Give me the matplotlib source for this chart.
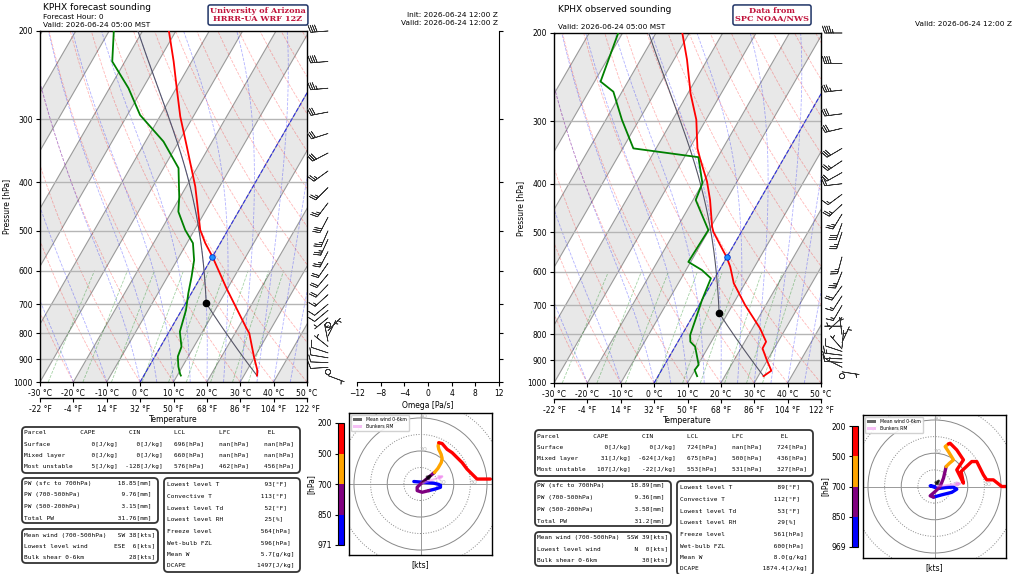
import numpy as np
import matplotlib
matplotlib.use("Agg")
import matplotlib.pyplot as plt
from matplotlib.patches import FancyBboxPatch, Patch, Circle
from matplotlib.colors import ListedColormap, BoundaryNorm
from matplotlib.cm import ScalarMappable
from matplotlib.transforms import IdentityTransform

W, H = 1024, 574

# ---------------------------------------------------------------- data
# forecast sounding (HRRR-UA WRF), pressure [hPa] / temperature [degC]
fc_t_p = [971, 964, 946, 890, 800, 782, 651, 563, 529, 498, 434, 408, 340, 296, 262, 230, 200]
fc_t = [33.9, 33.7, 33.0, 29.7, 24.3, 22.6, 9.7, 0.0, -4.5, -8.3, -14.5, -17.3, -26.7, -33.9, -39.5, -45.4, -52.1]
fc_td_p = [971, 964, 932, 890, 851, 794, 719, 666, 617, 572, 529, 498, 458, 428, 375, 332, 294, 260, 230, 200]
fc_td = [11.1, 10.6, 8.8, 6.9, 6.3, 3.2, 1.3, -0.9, -2.8, -4.9, -8.2, -12.8, -18.0, -20.3, -25.5, -34.6, -46.2, -54.3, -63.8, -68.6]
# forecast winds [hPa] / u, v [kts]
fc_w_p = [971, 955, 935, 915, 895, 875, 850, 830, 810, 790, 770, 745, 720, 700,
          670, 640, 610, 580, 550, 520, 500, 470, 440, 410, 380, 350, 320, 290, 260, 230, 200]
fc_u = [-4, 2, 8, 12, 12, 9, 5, 1, -2, -2, 0, 3, 6, 8.4,
        10.5, 12.5, 13, 12.4, 11, 10.6, 11, 13, 16, 19, 22, 25, 28, 31, 34, 38, 42]
fc_v = [1.5, 1, 0.5, -0.5, -2, -3, -4, -5, -4, -2, 0, 2.5, 5, 7,
        9.5, 13, 15.5, 18, 21, 23, 25, 24.5, 21, 19, 16, 13, 9, 6, 3, 3, 3]
fc_mean_wind = (8.4, 7.0)
fc_bunkers = (16.0, 5.6)
fc_freeze = 564

# observed sounding (SPC)
ob_t_p = [969, 945, 900, 853, 827, 778, 699, 632, 586, 561, 530, 499, 487, 431, 396, 356, 340, 322, 298, 264, 258, 226, 200]
ob_t = [31.6, 33.0, 29.8, 26.5, 26.4, 22.3, 13.8, 6.6, 2.7, 0.0, -4.1, -8.4, -9.7, -14.9, -19.0, -25.1, -27.6, -29.8, -32.9, -39.2, -40.2, -46.1, -52.1]
ob_td_p = [969, 942, 920, 846, 827, 802, 732, 683, 618, 595, 573, 495, 431, 399, 354, 340, 298, 262, 250, 200]
ob_td = [11.7, 9.9, 10.2, 6.0, 3.7, 2.5, 1.1, 0.0, -1.1, -5.2, -10.7, -10.2, -19.2, -20.1, -25.8, -46.8, -55.2, -62.6, -68.2, -71.3]
ob_w_p = [969, 950, 930, 910, 895, 880, 865, 855, 850, 830, 800, 770, 740, 700,
          670, 640, 600, 560, 500, 480, 460, 440, 420, 400, 380, 360, 340, 310, 290, 260, 230, 200]
ob_u = [0, -2.6, 2.4, 8, 11.4, 13.4, 10.4, 4.4, -0.6, -2.6, 0.4, 3.4, 5.4, 7,
        9, 11.4, 8.4, 6.4, 8.4, 9.4, 13.4, 17.4, 13.4, 17.4, 16, 22.4, 25.4, 29.4, 31.4, 35.4, 40.4, 43.4]
ob_v = [0, 0.4, -1.2, -0.5, -0.4, -1.6, -3.5, -5, -6.4, -5.6, -3, 0, 5, 12,
        14, 16, 21, 24, 25.6, 26, 22, 16, 10, 2, 9, 15, 15, 7, 4, 4, 0, 0]
ob_mean_wind = (4.4, 6.0)
ob_bunkers = (18.4, 2.0)
ob_freeze = 561

# table contents
fc_parcels = [("Surface", "0", "0", "696", "nan", "nan"),
              ("Mixed layer", "0", "0", "660", "nan", "nan"),
              ("Most unstable", "5", "-128", "576", "462", "456")]
ob_parcels = [("Surface", "0", "0", "724", "nan", "724"),
              ("Mixed layer", "31", "-624", "675", "500", "436"),
              ("Most unstable", "107", "-22", "553", "531", "327")]
pw_labels = ["PW (sfc to 700hPa)", "PW (700-500hPa)", "PW (500-200hPa)", "Total PW"]
fc_pw = ["18.85", "9.76", "3.15", "31.76"]
ob_pw = ["18.89", "9.36", "3.58", "31.2"]
wind_labels = ["Mean wind (700-500hPa)", "Lowest level wind", "Bulk shear 0-6km"]
fc_winds = [("SW", "38"), ("ESE", "6"), ("", "28")]
ob_winds = [("SSW", "39"), ("N", "0"), ("", "30")]
thermo_labels = ["Lowest level T", "Convective T", "Lowest level Td", "Lowest level RH",
                 "Freeze level", "Wet-bulb FZL", "Mean W", "DCAPE"]
thermo_units = ["[°F]", "[°F]", "[°F]", "[%]", "[hPa]", "[hPa]", "[g/kg]", "[J/kg]"]
fc_thermo = ["93", "113", "52", "25", "564", "596", "5.7", "1497"]
ob_thermo = ["89", "112", "53", "29", "561", "600", "8.0", "1874.4"]

t_ticks = [-30, -20, -10, 0, 10, 20, 30, 40, 50]
f_ticks = [-22, -4, 14, 32, 50, 68, 86, 104, 122]
p_ticks = [200, 300, 400, 500, 600, 700, 800, 900, 1000]
hodo_layers = [(971, 850, "blue"), (850, 700, "purple"), (700, 500, "orange"), (500, 200, "red")]

# ---------------------------------------------------------------- physics
RD, CP, LV, EPS = 287.04, 1005.7, 2.501e6, 0.622
KAPPA = RD / CP


def sat_vap(t):
    return 6.112 * np.exp(17.67 * t / (t + 243.5))


def sat_mixr(p, t):
    e = sat_vap(t)
    return EPS * e / (p - e)


def moist_rate(p, t):
    tk = t + 273.15
    rs = sat_mixr(p, t)
    return (RD * tk + LV * rs) / (CP + LV ** 2 * rs * EPS / (RD * tk ** 2)) / p


def moist_adiabat(t0, p0, p1, n=300):
    ps = np.geomspace(p0, p1, n)
    ts = [np.asarray(t0, dtype=float)]
    for i in range(1, n):
        dp = ps[i] - ps[i - 1]
        k1 = moist_rate(ps[i - 1], ts[-1])
        k2 = moist_rate(ps[i], ts[-1] + dp * k1)
        ts.append(ts[-1] + dp * (k1 + k2) / 2)
    return ps, np.array(ts)


def parcel(p0, t0, td0):
    w = sat_mixr(p0, td0)
    ps = np.linspace(p0, 400, 3000)
    t_dry = (t0 + 273.15) * (ps / p0) ** KAPPA - 273.15
    e = ps * w / (EPS + w)
    td = 243.5 * np.log(e / 6.112) / (17.67 - np.log(e / 6.112))
    i = np.argmax(td >= t_dry)
    p_lcl, t_lcl = ps[i], t_dry[i]
    pm, tm = moist_adiabat(t_lcl, p_lcl, 200)
    return p_lcl, t_lcl, np.concatenate([ps[:i + 1], pm]), np.concatenate([t_dry[:i + 1], tm])


# ---------------------------------------------------------------- figure
fig = plt.figure(figsize=(W / 100, H / 100), dpi=100)


def px_axes(x0, y0, x1, y1):
    return fig.add_axes([x0 / W, 1 - y1 / H, (x1 - x0) / W, (y1 - y0) / H])


def ftext(x, y, s, **kw):
    kw.setdefault("va", "center")
    fig.text(x / W, 1 - y / H, s, **kw)


def box(x0, y0, x1, y1):
    fig.add_artist(FancyBboxPatch((x0, H - y1), x1 - x0, y1 - y0,
                                  boxstyle="round,pad=0,rounding_size=4",
                                  transform=IdentityTransform(), fc="white",
                                  ec="#333333", lw=1.3))


def skewt(ax, t_p, t, td_p, td, p_sfc, t_sfc, td_sfc, freeze):
    ln5 = np.log(5.0)
    bb = ax.get_position()
    S = np.tan(np.radians(30)) * (80 / (bb.width * W)) * (bb.height * H / ln5)

    def sx(tt, pp):
        return np.asarray(tt) + S * np.log(1000.0 / np.asarray(pp))

    top = S * ln5
    for t0 in range(-140, 50, 20):
        ax.fill([t0, t0 + 10, t0 + 10 + top, t0 + top], [1000, 1000, 200, 200],
                color="#e8e8e8", lw=0, zorder=0)
    for t0 in range(-140, 60, 10):
        ax.plot([t0, t0 + top], [1000, 200], color="#9a9a9a", lw=0.8, zorder=1)
    pp = np.geomspace(1000, 200, 60)
    for th in range(-30, 260, 10):
        tt = (th + 273.15) * (pp / 1000) ** KAPPA - 273.15
        ax.plot(sx(tt, pp), pp, color="red", ls="--", lw=0.6, alpha=0.28, zorder=1)
    t0s = np.concatenate([np.arange(-30, 0, 10), np.arange(0, 51, 5)])
    pm, tm = moist_adiabat(t0s, 1000, 200, 120)
    for k in range(len(t0s)):
        ax.plot(sx(tm[:, k], pm), pm, color="blue", ls="--", lw=0.6, alpha=0.3, zorder=1)
    pw = np.linspace(1000, 600, 20)
    for w in [0.0004, 0.001, 0.002, 0.004, 0.007, 0.01, 0.016, 0.024, 0.032]:
        e = pw * w / (EPS + w)
        tdw = 243.5 * np.log(e / 6.112) / (17.67 - np.log(e / 6.112))
        ax.plot(sx(tdw, pw), pw, color="green", ls="--", lw=0.6, alpha=0.35, zorder=1)
    for p in p_ticks[1:-1]:
        ax.axhline(p, color="#b5b5b5", lw=1.0, zorder=1)
    ax.plot([0, top], [1000, 200], color="blue", ls="--", lw=0.8, alpha=0.7, zorder=2)

    p_lcl, t_lcl, par_p, par_t = parcel(p_sfc, t_sfc, td_sfc)
    ax.plot(sx(par_t, par_p), par_p, color="#555566", lw=0.8, zorder=3)
    ax.plot(sx(t, t_p), t_p, color="red", lw=1.3, zorder=4)
    ax.plot(sx(td, td_p), td_p, color="green", lw=1.3, zorder=4)
    ax.plot(sx(t_lcl, p_lcl), p_lcl, "o", color="black", ms=4.5, zorder=5)
    ax.plot(sx(0, freeze), freeze, "o", mfc="dodgerblue", mec="#0033cc", mew=0.6, ms=4, zorder=5)

    ax.set_yscale("log")
    ax.set_ylim(1000, 200)
    ax.set_xlim(-30, 50)
    ax.minorticks_off()
    ax.set_yticks(p_ticks)
    ax.set_yticklabels([str(p) for p in p_ticks], fontsize=5.5)
    ax.set_xticks(t_ticks)
    ax.set_xticklabels([f"{t} °C" for t in t_ticks], fontsize=5.5)
    ax.tick_params(length=3, width=0.8, pad=2)
    ax.set_ylabel("Pressure [hPa]", fontsize=5.5, labelpad=2)
    for s in ax.spines.values():
        s.set_linewidth(1.0)
    sec = ax.secondary_xaxis(-0.045)
    sec.set_xticks(t_ticks)
    sec.set_xticklabels([f"{f} °F" for f in f_ticks], fontsize=5.5)
    sec.tick_params(length=3, width=0.8, pad=2)
    sec.spines["bottom"].set_linewidth(1.0)
    sec.set_xlabel("Temperature", fontsize=5.5, labelpad=1)


def barbs(ax, p, u, v):
    ax.set_yscale("log")
    ax.set_ylim(1000, 200)
    ax.set_xlim(0, 1)
    ax.axis("off")
    ax.barbs(np.full(len(p), 0.42), p, u, v, length=5.0, lw=0.5, color="#333333",
             clip_on=False)


def hodograph(ax, cax, p, u, v, mean_wind, bunkers, bottom_label):
    p = np.asarray(p)
    u = np.asarray(u)
    v = np.asarray(v)
    for r, ls in zip([10, 20, 30, 40, 50], [":", "-", ":", "-", ":"]):
        ax.add_patch(Circle((0, 0), r, fill=False, ls=ls, lw=0.7, color="#888888"))
    ax.axhline(0, color="#999999", lw=0.7)
    ax.axvline(0, color="#999999", lw=0.7)
    for r, (x, y) in zip([10, 20, 30, 40], [(13, 1), (2, 21), (32, 1), (2, 41)]):
        ax.text(x, y, str(r), fontsize=4.5, color="#bbbbbb", ha="center", va="center")
    for hi, lo, c in hodo_layers:
        sel = (p <= hi) & (p >= lo)
        ax.plot(u[sel], v[sel], color=c, lw=2.4, solid_capstyle="round")
    ax.annotate("", xy=mean_wind, xytext=(0, 0),
                arrowprops=dict(arrowstyle="-|>", color="black", alpha=0.6, lw=1.6,
                                mutation_scale=6))
    ax.annotate("", xy=bunkers, xytext=(0, 0),
                arrowprops=dict(arrowstyle="-|>", color="violet", alpha=0.5, lw=1.6,
                                mutation_scale=6))
    ax.legend(handles=[Patch(fc="black", alpha=0.6, label="Mean wind 0-6km"),
                       Patch(fc="violet", alpha=0.5, label="Bunkers RM")],
              loc="upper left", fontsize=3.3, handlelength=2, borderpad=0.4,
              labelspacing=0.4, framealpha=0.9)
    ax.set_xlim(-43, 43)
    ax.set_ylim(-43, 43)
    ax.set_xticks([])
    ax.set_yticks([])
    ax.set_xlabel("[kts]", fontsize=5.5, labelpad=4)
    for s in ax.spines.values():
        s.set_linewidth(1.0)
    cmap = ListedColormap([c for _, _, c in hodo_layers])
    norm = BoundaryNorm([0, 1, 2, 3, 4], 4)
    cb = fig.colorbar(ScalarMappable(norm=norm, cmap=cmap), cax=cax)
    cb.set_ticks([0, 1, 2, 3, 4])
    cb.set_ticklabels([bottom_label, "850", "700", "500", "200"])
    cax.yaxis.set_ticks_position("left")
    cax.yaxis.set_label_position("left")
    cax.tick_params(labelsize=5.5, length=2.5, width=0.8, pad=2)
    cb.outline.set_linewidth(0.8)
    cb.set_label("[hPa]", fontsize=5.5, labelpad=1)


def tables(x0, y0, parcels, pw, winds, thermo):
    mono = dict(family="DejaVu Sans Mono", fontsize=4.45)
    box(x0, y0, x0 + 278, y0 + 46)
    head = "Parcel".ljust(15) + "CAPE".ljust(13) + "CIN".ljust(12) + "LCL".ljust(12) + "LFC".ljust(13) + "EL"
    ftext(x0 + 2, y0 + 6, head, **mono)
    for i, (name, cape, cin, lcl, lfc, el) in enumerate(parcels):
        row = f"{name:<13}{cape:>6}[J/kg]{cin:>6}[J/kg]{lcl:>6}[hPa]{lfc:>7}[hPa]{el:>7}[hPa]"
        ftext(x0 + 2, y0 + 17.3 + 11.3 * i, row, **mono)
    box(x0, y0 + 51, x0 + 136, y0 + 96)
    for i, (lab, val) in enumerate(zip(pw_labels, pw)):
        ftext(x0 + 2, y0 + 56 + 11.6 * i, f"{lab:<22}{val + '[mm]':>12}", **mono)
    box(x0, y0 + 102, x0 + 136, y0 + 136)
    for i, (lab, (d, spd)) in enumerate(zip(wind_labels, winds)):
        ftext(x0 + 2, y0 + 108 + 11 * i, f"{lab:<22}{d:>5}{spd + '[kts]':>8}", **mono)
    box(x0 + 142, y0 + 51, x0 + 278, y0 + 145)
    for i, (lab, val, un) in enumerate(zip(thermo_labels, thermo, thermo_units)):
        ftext(x0 + 145, y0 + 57 + 11.7 * i, f"{lab:<20}{val:>8}{un}", **mono)


# ---------------------------------------------------------------- left: forecast
ax_l = px_axes(40, 31, 307, 382)
skewt(ax_l, fc_t_p, fc_t, fc_td_p, fc_td, fc_t_p[0], fc_t[0], fc_td[0], fc_freeze)
barbs(px_axes(307, 31, 357, 382), fc_w_p, fc_u, fc_v)

ax_om = px_axes(357, 31, 499, 382)
ax_om.set_yscale("log")
ax_om.set_ylim(1000, 200)
ax_om.minorticks_off()
ax_om.set_yticks(p_ticks)
ax_om.set_yticklabels([])
ax_om.yaxis.set_ticks_position("right")
ax_om.set_xlim(-12, 12)
ax_om.set_xticks(range(-12, 13, 4))
ax_om.tick_params(labelsize=5.5, length=3, width=0.8, pad=2)
ax_om.spines["left"].set_visible(False)
ax_om.spines["top"].set_visible(False)
ax_om.set_xlabel("Omega [Pa/s]", fontsize=5.5, labelpad=2)

hodograph(px_axes(349, 413, 492, 555), px_axes(338, 423, 344, 545),
          fc_w_p, fc_u, fc_v, fc_mean_wind, fc_bunkers, "971")
tables(22, 427, fc_parcels, fc_pw, fc_winds, fc_thermo)

ftext(43, 7, "KPHX forecast sounding", fontsize=6.5)
ftext(43, 17, "Forecast Hour: 0", fontsize=5.3)
ftext(43, 25, "Valid: 2026-06-24 05:00 MST", fontsize=5.3)
ftext(498, 15, "Init: 2026-06-24 12:00 Z", fontsize=5.3, ha="right")
ftext(498, 23, "Valid: 2026-06-24 12:00 Z", fontsize=5.3, ha="right")
ftext(258, 15, "University of Arizona\nHRRR-UA WRF 12Z", fontsize=5.9, ha="center",
      family="DejaVu Serif", weight="bold", color="#c0143c", linespacing=1.0,
      bbox=dict(boxstyle="round,pad=0.25", fc="white", ec="#1f3366", lw=1.1))

# ---------------------------------------------------------------- right: observed
ax_r = px_axes(554, 33, 821, 383)
skewt(ax_r, ob_t_p, ob_t, ob_td_p, ob_td, ob_t_p[0], ob_t[0], ob_td[0], ob_freeze)
barbs(px_axes(821, 33, 871, 383), ob_w_p, ob_u, ob_v)

hodograph(px_axes(863, 415, 1006, 558), px_axes(852, 426, 858, 547),
          ob_w_p, ob_u, ob_v, ob_mean_wind, ob_bunkers, "969")
tables(535, 430, ob_parcels, ob_pw, ob_winds, ob_thermo)

ftext(558, 9, "KPHX observed sounding", fontsize=6.5)
ftext(558, 27, "Valid: 2026-06-24 05:00 MST", fontsize=5.3)
ftext(1012, 24, "Valid: 2026-06-24 12:00 Z", fontsize=5.3, ha="right")
ftext(772, 15, "Data from\nSPC NOAA/NWS", fontsize=5.9, ha="center",
      family="DejaVu Serif", weight="bold", color="#c0143c", linespacing=1.0,
      bbox=dict(boxstyle="round,pad=0.25", fc="white", ec="#1f3366", lw=1.1))

fig.savefig("out.png", dpi=100)
